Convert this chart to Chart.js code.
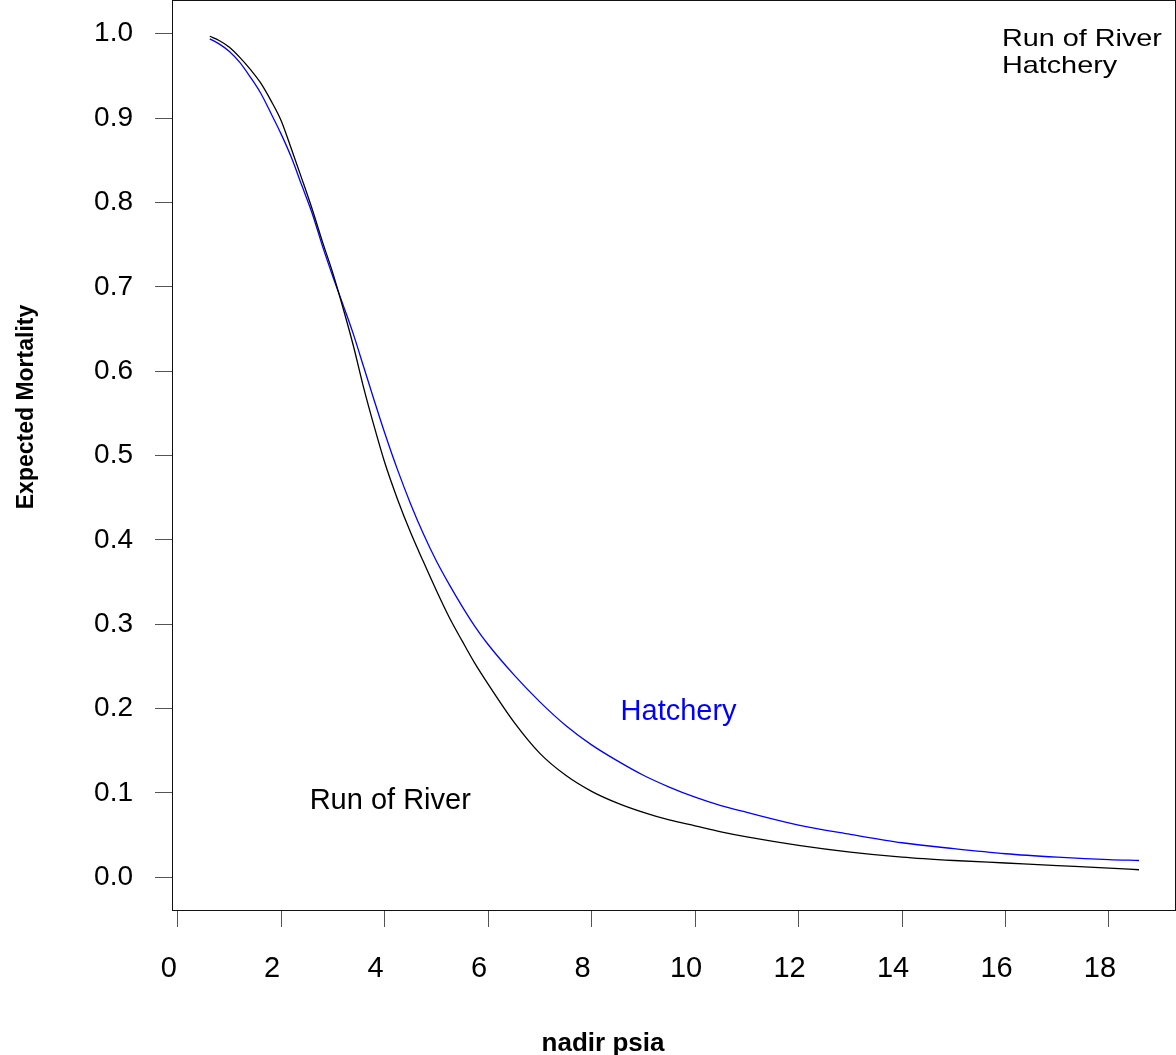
<!DOCTYPE html>
<html>
<head>
<meta charset="utf-8">
<title>Expected Mortality vs nadir psia</title>
<script src="https://cdn.jsdelivr.net/npm/chart.js@4.4.1/dist/chart.umd.min.js"></script>
<style>
  body { margin: 0; background: #fff; }
  #wrap { width: 1176px; height: 1055px; }
</style>
</head>
<body>
<div id="wrap"><canvas id="chart" width="1176" height="1055"></canvas></div>
<script>
// ------------ DATA ---------------
const pressure = [0.62, 0.8, 1.0, 1.2, 1.4, 1.6, 1.8, 2.0, 2.2, 2.4, 2.6, 2.8, 3.0, 3.2, 3.4, 3.6, 3.8, 4.0,
  4.25, 4.5, 4.75, 5.0, 5.25, 5.5, 5.75, 6.0, 6.5, 7.0, 7.5, 8.0, 8.5, 9.0, 9.5, 10.0, 10.5, 11.0,
  12.0, 13.0, 14.0, 15.0, 16.0, 17.0, 18.0, 18.58];
const runOfRiver = [0.997, 0.992, 0.984, 0.972, 0.958, 0.942, 0.921, 0.897, 0.863, 0.828, 0.792, 0.753, 0.716, 0.674, 0.629, 0.579, 0.534, 0.492,
  0.448, 0.409, 0.374, 0.340, 0.308, 0.280, 0.253, 0.229, 0.184, 0.147, 0.121, 0.102, 0.088, 0.077, 0.068, 0.061, 0.054, 0.048,
  0.038, 0.030, 0.024, 0.020, 0.017, 0.014, 0.011, 0.009];
const hatchery = [0.994, 0.988, 0.979, 0.966, 0.949, 0.930, 0.906, 0.881, 0.853, 0.820, 0.787, 0.748, 0.712, 0.678, 0.643, 0.604, 0.565, 0.527,
  0.483, 0.443, 0.407, 0.375, 0.347, 0.321, 0.297, 0.276, 0.240, 0.208, 0.180, 0.157, 0.138, 0.121, 0.107, 0.095, 0.085, 0.077,
  0.062, 0.051, 0.041, 0.034, 0.028, 0.024, 0.021, 0.020];

const xTicks = [0, 2, 4, 6, 8, 10, 12, 14, 16, 18];
const yTicks = [0, 0.1, 0.2, 0.3, 0.4, 0.5, 0.6, 0.7, 0.8, 0.9, 1.0];

// text labels inside the plot, placed in data units
const notes = [
  { text: "Run of River", x: 2.55, y: 0.081, color: "#000000" },
  { text: "Hatchery", x: 8.56, y: 0.186, color: "#0000ff" }
];
const legendText = ["Run of River", "Hatchery"];
const legendX = 15.93;
const legendY = [0.9855, 0.954];

const FONT = '"Liberation Sans", Arial, sans-serif';
Chart.defaults.font.family = FONT;

// box around the plot + labels + axis titles
const frame = {
  id: 'frame',
  afterDraw(chart) {
    const { ctx, chartArea: a, scales: { x, y } } = chart;
    ctx.save();
    ctx.strokeStyle = '#111';
    ctx.lineWidth = 1;
    ctx.strokeRect(a.left + 0.5, a.top + 0.5, a.right - a.left - 1, a.bottom - a.top);

    ctx.textAlign = 'left';
    ctx.textBaseline = 'alphabetic';
    ctx.font = '29px ' + FONT;
    notes.forEach(n => {
      ctx.fillStyle = n.color;
      ctx.fillText(n.text, x.getPixelForValue(n.x), y.getPixelForValue(n.y));
    });

    // legend text in the corner is wider than it is tall in the original
    ctx.font = '24px ' + FONT;
    ctx.fillStyle = '#000';
    legendText.forEach((t, i) => {
      ctx.save();
      ctx.translate(x.getPixelForValue(legendX), y.getPixelForValue(legendY[i]));
      ctx.scale(1.2, 1);
      ctx.fillText(t, 0, 0);
      ctx.restore();
    });

    ctx.textAlign = 'center';
    ctx.font = 'bold 26px ' + FONT;
    ctx.fillText('nadir psia', 603, 1051);
    ctx.translate(33, 407);
    ctx.rotate(-Math.PI / 2);
    ctx.font = 'bold 23px ' + FONT;
    ctx.fillText('Expected Mortality', 0, 0);
    ctx.restore();
  }
};

const toPoints = ys => pressure.map((p, i) => ({ x: p, y: ys[i] }));

new Chart(document.getElementById('chart'), {
  type: 'line',
  data: {
    datasets: [
      {
        label: 'Run of River',
        data: toPoints(runOfRiver),
        borderColor: '#000000',
        borderWidth: 1.3,
        pointRadius: 0,
        cubicInterpolationMode: 'monotone'
      },
      {
        label: 'Hatchery',
        data: toPoints(hatchery),
        borderColor: '#0000ff',
        borderWidth: 1.3,
        pointRadius: 0,
        cubicInterpolationMode: 'monotone'
      }
    ]
  },
  options: {
    responsive: false,
    animation: false,
    layout: { padding: 0 },
    plugins: {
      legend: { display: false },
      tooltip: { enabled: false }
    },
    scales: {
      x: {
        type: 'linear',
        min: -0.11,
        max: 19.295,
        afterBuildTicks: s => { s.ticks = xTicks.map(v => ({ value: v })); },
        afterFit: s => { s.height = 145; s.paddingLeft = 0; s.paddingRight = 0; },
        grid: { drawOnChartArea: false, drawTicks: true, tickLength: 17, color: '#555' },
        border: { display: false },
        ticks: { font: { size: 29 }, color: '#000', padding: 25, labelOffset: -9, maxRotation: 0, autoSkip: false }
      },
      y: {
        type: 'linear',
        min: -0.0387,
        max: 1.04,
        afterBuildTicks: s => { s.ticks = yTicks.map(v => ({ value: v })); },
        afterFit: s => { s.width = 172; s.paddingTop = 0; s.paddingBottom = 0; },
        grid: { drawOnChartArea: false, drawTicks: true, tickLength: 17, color: '#555' },
        border: { display: false },
        ticks: { font: { size: 28 }, color: '#000', padding: 22, autoSkip: false, callback: v => v.toFixed(1) }
      }
    }
  },
  plugins: [frame]
});
</script>
</body>
</html>
